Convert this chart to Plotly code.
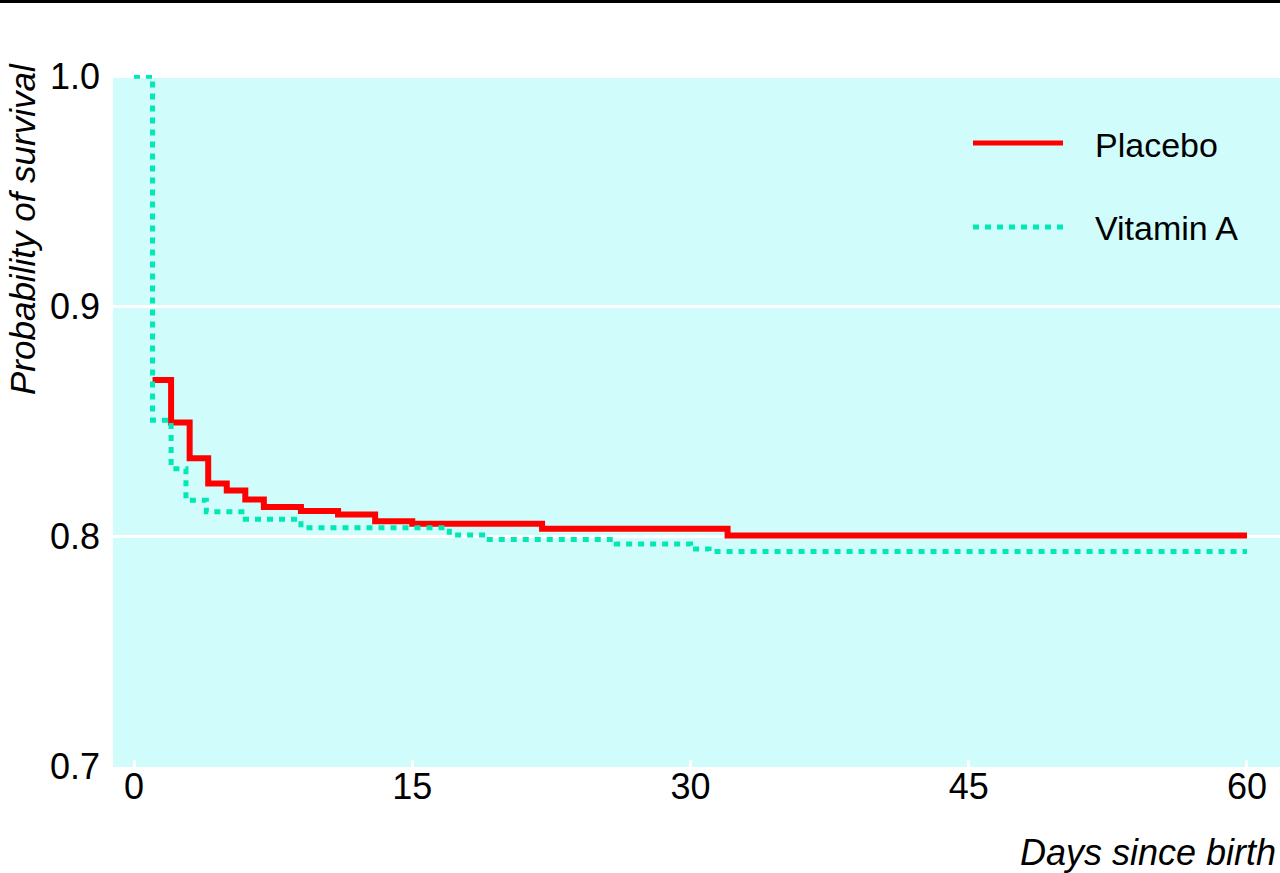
import plotly.graph_objects as go

# Kaplan-Meier step data
placebo_days = [1, 2, 3, 4, 5, 6, 7, 9, 11, 13, 15, 22, 32, 60]
placebo_surv = [0.868, 0.8495, 0.834, 0.823, 0.820, 0.816, 0.8128, 0.811, 0.8095, 0.8066, 0.8055, 0.8033, 0.8004, 0.8004]

vita_days = [0, 1, 2, 2.8, 3.9, 6, 9, 17, 19, 26, 30, 31, 60]
vita_surv = [1.0, 0.8505, 0.8294, 0.8157, 0.8107, 0.8075, 0.8038, 0.8006, 0.7987, 0.7967, 0.7945, 0.7934, 0.7934]

x_ticks = [0, 15, 30, 45, 60]
y_ticks = [0.7, 0.8, 0.9, 1.0]
y_ticklabels = ["0.7", "0.8", "0.9", "1.0"]

RED = "#ff0000"
GREEN = "#00e8b4"
BG = "#d0fcfc"
FONT = "Liberation Sans, Arial, sans-serif"

fig = go.Figure()
fig.add_trace(go.Scatter(x=placebo_days, y=placebo_surv, mode="lines",
                         line=dict(color=RED, width=6, shape="hv"),
                         name="Placebo", showlegend=False))
fig.add_trace(go.Scatter(x=vita_days, y=vita_surv, mode="lines",
                         line=dict(color=GREEN, width=5, shape="hv", dash="6px,6px"),
                         name="Vitamin A", showlegend=False))

L, T, B = 113, 75, 106
W, H = 1280, 873
pw = W - L
ph = H - T - B

def px(xp):
    return (xp - L) / pw

def py(yp):
    return (H - B - yp) / ph

fig.update_layout(
    width=W, height=H,
    margin=dict(l=L, r=0, t=T, b=B, autoexpand=False),
    paper_bgcolor="white",
    plot_bgcolor=BG,
    font=dict(family=FONT, size=35, color="black"),
    xaxis=dict(range=[-1.132, 61.78], tickvals=x_ticks, ticks="inside",
               ticklen=7, tickwidth=3, tickcolor="white", showgrid=False,
               zeroline=False, showline=False, ticklabelstandoff=-5,
               automargin=False, tickfont=dict(size=36)),
    yaxis=dict(range=[0.6998, 1.0005], tickvals=y_ticks, ticktext=y_ticklabels,
               ticks="", showgrid=True, gridcolor="white", gridwidth=3,
               zeroline=False, showline=False, ticklabelstandoff=12,
               automargin=False, tickfont=dict(size=36)),
    showlegend=False,
)

shapes = [
    dict(type="line", xref="paper", yref="paper", x0=px(0), x1=px(W),
         y0=py(1.5), y1=py(1.5), line=dict(color="black", width=3)),
    dict(type="line", xref="paper", yref="paper", x0=px(973), x1=px(1063),
         y0=py(143), y1=py(143), line=dict(color=RED, width=5)),
    dict(type="line", xref="paper", yref="paper", x0=px(973), x1=px(1063),
         y0=py(227), y1=py(227), line=dict(color=GREEN, width=5, dash="6px,6px")),
]
fig.update_layout(shapes=shapes)

annotations = [
    dict(text="Placebo", xref="paper", yref="paper", x=px(1093), y=py(145),
         xanchor="left", yanchor="middle", showarrow=False, font=dict(size=34)),
    dict(text="Vitamin A", xref="paper", yref="paper", x=px(1093), y=py(228),
         xanchor="left", yanchor="middle", showarrow=False, font=dict(size=34)),
    dict(text="<i>Days since birth</i>", xref="paper", yref="paper", x=px(1278), y=py(852),
         xanchor="right", yanchor="middle", showarrow=False, font=dict(size=36)),
    dict(text="<i>Probability of survival</i>", xref="paper", yref="paper",
         x=px(22), y=py(229), xanchor="center", yanchor="middle", textangle=-90,
         showarrow=False, font=dict(size=35)),
]
fig.update_layout(annotations=annotations)

fig.write_html(
    "out.html",
    config={"displayModeBar": False},
    post_script="document.body.style.margin='0';document.body.style.overflow='hidden';",
)
